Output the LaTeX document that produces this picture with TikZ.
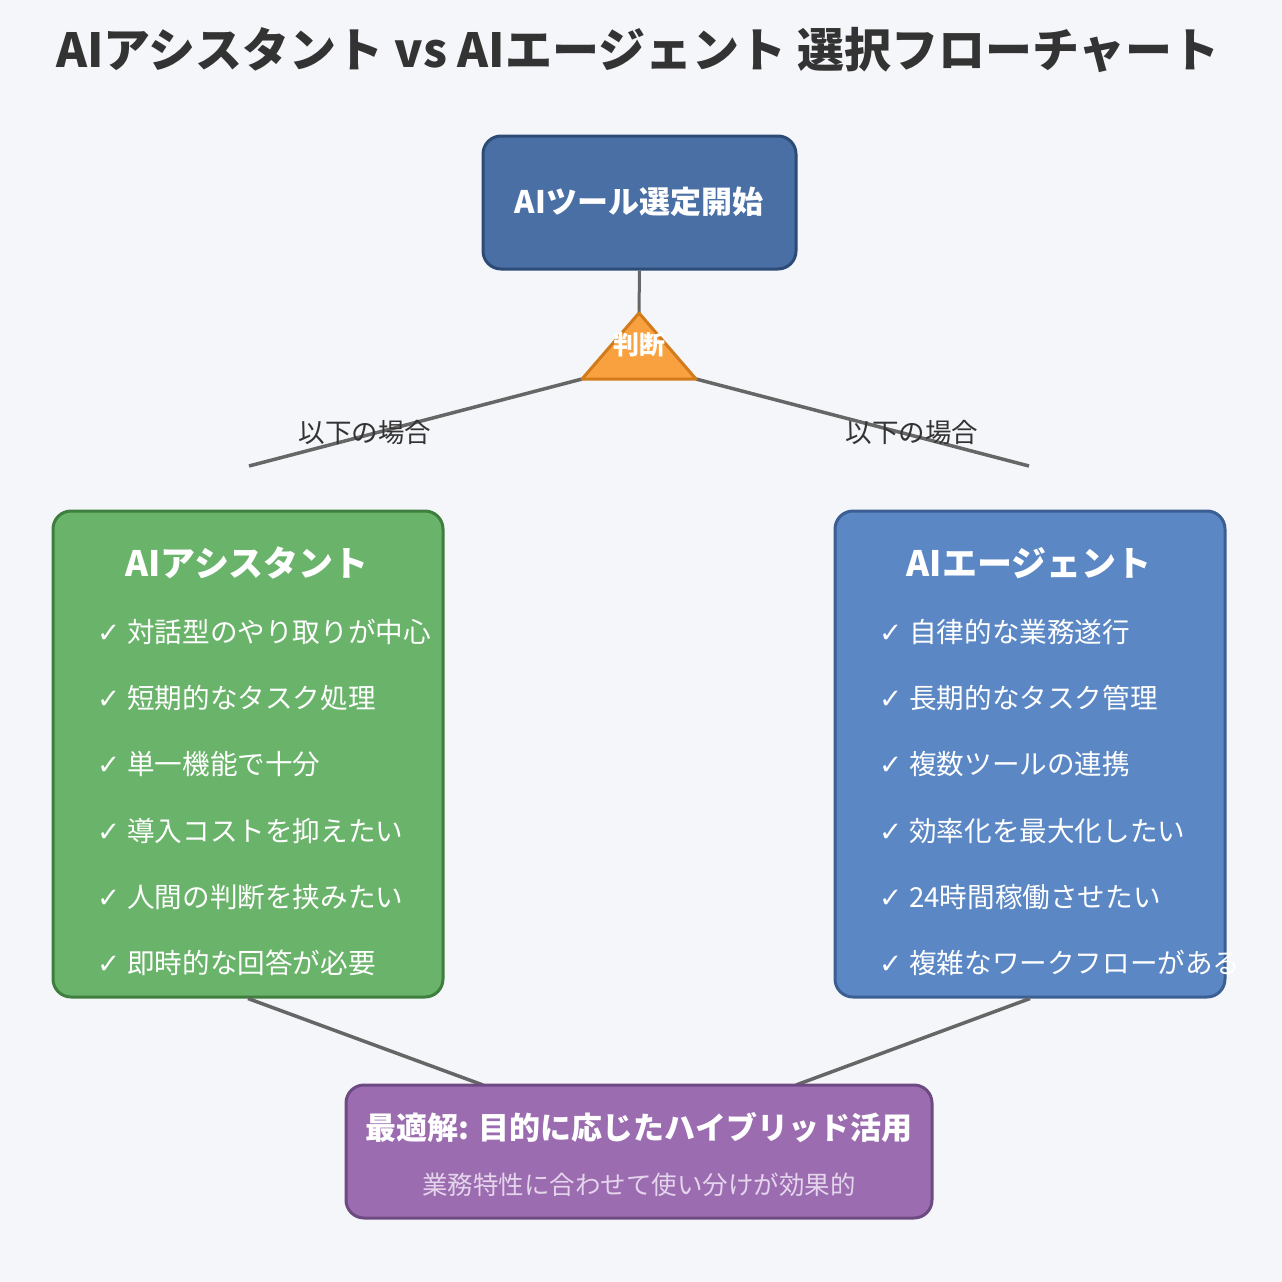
\documentclass[tikz,border=0pt]{standalone}
\usepackage{fontspec}
\setmainfont{Noto Sans CJK JP}
\newfontfamily\checkfont{DejaVu Sans}
\definecolor{bgc}{HTML}{F5F6FA}
\definecolor{titlec}{HTML}{333333}
\definecolor{topfill}{HTML}{4A6FA5}
\definecolor{topdraw}{HTML}{2C4B77}
\definecolor{grfill}{HTML}{6AB36A}
\definecolor{grdraw}{HTML}{3E7E3E}
\definecolor{blfill}{HTML}{5B87C5}
\definecolor{bldraw}{HTML}{3C5F93}
\definecolor{pufill}{HTML}{9B6CAF}
\definecolor{pudraw}{HTML}{6E4A83}
\definecolor{trifill}{HTML}{F9A13E}
\definecolor{tridraw}{HTML}{D27B1D}
\definecolor{linec}{HTML}{666666}
\definecolor{subc}{HTML}{E4D4EC}
\newcommand{\ck}{{\checkfont ✓}\hspace{7pt}}
\begin{document}
\begin{tikzpicture}[x=1pt,y=-1pt,
  box/.style={rounded corners=18pt, line width=3pt, inner sep=0pt},
  conn/.style={draw=linec, line width=3.5pt},
  item/.style={anchor=west, inner sep=0pt, text=white, font=\fontsize{27.6}{32}\selectfont},
  boxtitle/.style={inner sep=0pt, text=white, font=\bfseries\fontsize{35}{42}\selectfont},
  lbl/.style={inner sep=0pt, text=titlec, font=\fontsize{26.5}{31}\selectfont}]
\useasboundingbox[fill=bgc] (0,0) rectangle (1282,1282);

\node[inner sep=0pt, text=titlec, font=\bfseries\fontsize{47}{56}\selectfont] (title) at (638,50) {AIアシスタント vs AIエージェント 選択フローチャート};

% coordinates
\coordinate (apex) at (639,313);
\coordinate (tril) at (582,379);
\coordinate (trir) at (696,379);
\coordinate (la) at (249,466);
\coordinate (ra) at (1029,466);
\coordinate (bl) at (483,1085);
\coordinate (br) at (796,1085);

% boxes (shapes)
\node[box, fill=grfill, draw=grdraw, minimum width=390pt, minimum height=486pt] (lbox) at (248,754) {};
\node[box, fill=blfill, draw=bldraw, minimum width=390pt, minimum height=486pt] (rbox) at (1030,754) {};

% connectors
\draw[conn] (tril) -- (la);
\draw[conn] (trir) -- (ra);
\draw[conn] (lbox.south) -- (bl);
\draw[conn] (rbox.south) -- (br);

\node[box, fill=topfill, draw=topdraw, minimum width=313pt, minimum height=133pt] (start) at (639.5,202.5) {};
\draw[conn, line width=3pt] (start.south) -- (apex);
\draw[fill=trifill, draw=tridraw, line width=3pt, line join=round] (apex) -- (tril) -- (trir) -- cycle;

\node[box, fill=pufill, draw=pudraw, minimum width=586pt, minimum height=133pt] (bot) at (639,1151.5) {};

% texts
\node[inner sep=0pt, text=white, font=\bfseries\fontsize{31}{37}\selectfont] (starttxt) at (639,202) {AIツール選定開始};
\node[inner sep=0pt, text=white, font=\bfseries\fontsize{26}{31}\selectfont] (judge) at (639,345) {判断};
\node[lbl] (ll) at (365,433) {以下の場合};
\node[lbl] (rl) at (912,433) {以下の場合};

\node[boxtitle] (ltitle) at (247,563) {AIアシスタント};
\node[item] (l1) at (97,632) {\ck 対話型のやり取りが中心};
\node[item] (l2) at (97,698) {\ck 短期的なタスク処理};
\node[item] (l3) at (97,764) {\ck 単一機能で十分};
\node[item] (l4) at (97,831) {\ck 導入コストを抑えたい};
\node[item] (l5) at (97,897) {\ck 人間の判断を挟みたい};
\node[item] (l6) at (97,963) {\ck 即時的な回答が必要};

\node[boxtitle] (rtitle) at (1029,563) {AIエージェント};
\node[item] (r1) at (879,632) {\ck 自律的な業務遂行};
\node[item] (r2) at (879,698) {\ck 長期的なタスク管理};
\node[item] (r3) at (879,764) {\ck 複数ツールの連携};
\node[item] (r4) at (879,831) {\ck 効率化を最大化したい};
\node[item] (r5) at (879,897) {\ck 24時間稼働させたい};
\node[item] (r6) at (879,963) {\ck 複雑なワークフローがある};

\node[inner sep=0pt, text=white, font=\bfseries\fontsize{31}{37}\selectfont] (bottitle) at (639,1128) {最適解: 目的に応じたハイブリッド活用};
\node[inner sep=0pt, text=subc, font=\fontsize{25.5}{30}\selectfont] (botsub) at (639,1185) {業務特性に合わせて使い分けが効果的};
\end{tikzpicture}
\end{document}
